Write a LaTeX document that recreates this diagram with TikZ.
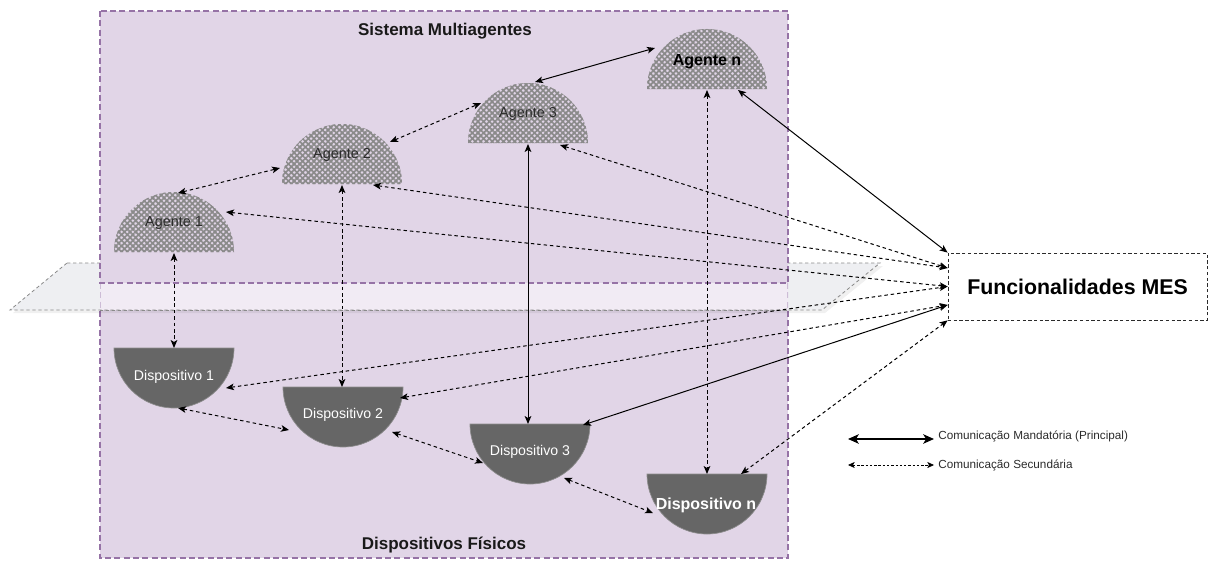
\documentclass[tikz,border=0pt]{standalone}
\usepackage{fontspec}
\setmainfont{Liberation Sans}
\usetikzlibrary{arrows.meta,patterns.meta,calc}

\definecolor{boxfill}{HTML}{E1D5E7}
\definecolor{boxline}{HTML}{9673A6}
\definecolor{boxfaded}{HTML}{CDBCD6}
\definecolor{planefill}{HTML}{EEEFF2}
\definecolor{planeinner}{HTML}{F1EBF4}
\definecolor{planeline}{HTML}{8A8A8A}
\definecolor{hatchgray}{HTML}{8A8A8A}
\definecolor{devfill}{HTML}{666666}
\definecolor{devline}{HTML}{8C8C8C}
\definecolor{txtgray}{HTML}{2B2B2B}

\tikzset{
  >={Stealth[length=6pt,width=5pt,inset=1.5pt]},
  boxborder/.style={draw=boxline, line width=1.3pt, dash pattern=on 4.5pt off 2.5pt},
  planeborder/.style={draw=planeline, line width=0.6pt, dash pattern=on 2.5pt off 2pt},
  mainlink/.style={<->, draw=black, line width=0.75pt},
  seclink/.style={<->, draw=black, line width=0.75pt, dash pattern=on 2.6pt off 2.2pt},
  aglabel/.style={text=txtgray, font=\fontsize{10.8}{13}\selectfont, inner sep=0pt},
  agbold/.style={text=black, font=\fontsize{12}{14}\selectfont\bfseries, inner sep=0pt},
  devlabel/.style={text=white, font=\fontsize{10.6}{13}\selectfont, inner sep=0pt},
  devbold/.style={text=white, font=\fontsize{12}{14}\selectfont\bfseries, inner sep=0pt},
  titletext/.style={text=black!90, font=\fontsize{12.75}{15}\selectfont\bfseries, inner sep=0pt},
  mesbox/.style={draw=txtgray, line width=0.6pt, dash pattern=on 2.5pt off 1.8pt, fill=white,
    minimum width=194.25pt, minimum height=50.25pt, inner sep=0pt,
    font=\fontsize{16}{19}\selectfont\bfseries},
  legtext/.style={text=txtgray, font=\fontsize{8.8}{10}\selectfont, inner sep=0pt, anchor=west},
  legmain/.style={{Stealth[length=8pt,width=7pt,inset=2pt]}-{Stealth[length=8pt,width=7pt,inset=2pt]}, line width=1.5pt},
  legsec/.style={{Stealth[length=5pt,width=4.5pt,inset=1.2pt]}-{Stealth[length=5pt,width=4.5pt,inset=1.2pt]},
    line width=0.5pt, dash pattern=on 1.8pt off 1.4pt},
}

\begin{document}
\begin{tikzpicture}[x=0.75pt,y=0.75pt]
\useasboundingbox (0,0) rectangle (1209,-560);

% lower frame: physical devices
\fill[boxfill] (100,-283) rectangle (788,-558);
\draw[boxborder] (100,-283) rectangle (788,-558);

% separating plane
\fill[black, opacity=0.06] (70,-266) -- (883,-266) -- (825,-313) -- (13,-313) -- cycle;
\path[fill=planefill, planeborder] (67,-263) -- (880,-263) -- (822,-310) -- (10,-310) -- cycle;
\begin{scope}
  \clip (100,-283) rectangle (788,-558);
  \path[fill=planeinner, planeborder] (67,-263) -- (880,-263) -- (822,-310) -- (10,-310) -- cycle;
  \draw[draw=boxfaded, line width=1.3pt, dash pattern=on 4.5pt off 2.5pt] (100,-283) -- (100,-310) (788,-283) -- (788,-310);
  \draw[planeborder] (10,-310) -- (822,-310);
\end{scope}

% upper frame: multi-agent system
\fill[boxfill] (100,-11) rectangle (788,-283);
\draw[boxborder] (100,-11) rectangle (788,-283);

\node[titletext] (tsys) at (445,-31) {Sistema Multiagentes};
\node[titletext] (tdev) at (444,-545) {Dispositivos Físicos};

% agents: cross-hatched domes
\foreach \cx/\cy in {174/252, 342/184, 528/143, 707/89} {
  \path[pattern={Lines[angle=45,distance=3pt,line width=1.3pt]}, pattern color=hatchgray]
    (\cx-60,-\cy) arc[start angle=180,end angle=0,radius=60] -- cycle;
  \path[pattern={Lines[angle=-45,distance=3pt,line width=1.3pt]}, pattern color=hatchgray]
    (\cx-60,-\cy) arc[start angle=180,end angle=0,radius=60] -- cycle;
}

% devices: dark bowls
\foreach \cx/\cy in {174/348, 343/387, 530/424, 707/474} {
  \path[fill=devfill, draw=devline, line width=0.5pt]
    (\cx-60,-\cy) arc[start angle=180,end angle=360,radius=60] -- cycle;
}

\node[aglabel] (ag1) at (174,-223) {Agente 1};
\node[aglabel] (ag2) at (342,-155) {Agente 2};
\node[aglabel] (ag3) at (528,-114) {Agente 3};
\node[agbold]  (agn) at (707,-62)  {Agente n};

\node[devlabel] (dv1) at (174,-377) {Dispositivo 1};
\node[devlabel] (dv2) at (343,-415) {Dispositivo 2};
\node[devlabel] (dv3) at (530,-452) {Dispositivo 3};
\node[devbold]  (dvn) at (706,-505) {Dispositivo n};

\node[mesbox] (mes) at (1077.5,-286.5) {Funcionalidades MES};

% connection points on the agents
\coordinate (ag1-top) at (178,-193);
\coordinate (ag1-ne)  at (226,-212);
\coordinate (ag1-bot) at (174,-253);
\coordinate (ag2-w)   at (280,-168);
\coordinate (ag2-ne)  at (390,-142);
\coordinate (ag2-se)  at (373,-185);
\coordinate (ag2-bot) at (342,-185);
\coordinate (ag3-w)   at (481,-103);
\coordinate (ag3-top) at (535,-82);
\coordinate (ag3-se)  at (560,-145);
\coordinate (ag3-bot) at (528,-144);
\coordinate (agn-w)   at (655,-48);
\coordinate (agn-se)  at (738,-90);
\coordinate (agn-bot) at (707,-90);

% connection points on the devices
\coordinate (dv1-top) at (174,-348);
\coordinate (dv1-e)   at (226,-388);
\coordinate (dv1-bot) at (178,-408);
\coordinate (dv2-top) at (342,-387);
\coordinate (dv2-w)   at (289,-430);
\coordinate (dv2-ne)  at (400,-398);
\coordinate (dv2-e)   at (392,-432);
\coordinate (dv3-top) at (528,-424);
\coordinate (dv3-ne)  at (583,-425);
\coordinate (dv3-w)   at (483,-463);
\coordinate (dv3-se)  at (564,-478);
\coordinate (dvn-top) at (707,-474);
\coordinate (dvn-ne)  at (741,-474);
\coordinate (dvn-w)   at (653,-513);

% connection points on the MES block
\coordinate (mes-p1) at (mes.north west);
\coordinate (mes-p2) at ($(mes.west)+(0,18.5)$);
\coordinate (mes-p3) at (mes.west);
\coordinate (mes-p4) at ($(mes.west)+(0,-18.5)$);
\coordinate (mes-p5) at (mes.south west);

% mandatory links
\draw[mainlink] (ag3-top) -- (agn-w);
\draw[mainlink] (agn-se) -- (mes-p1);
\draw[mainlink] (ag3-bot) -- (dv3-top);
\draw[mainlink] (dv3-ne) -- (mes-p4);

% secondary links
\draw[seclink] (ag1-top) -- (ag2-w);
\draw[seclink] (ag2-ne) -- (ag3-w);
\draw[seclink] (ag1-bot) -- (dv1-top);
\draw[seclink] (ag2-bot) -- (dv2-top);
\draw[seclink] (agn-bot) -- (dvn-top);
\draw[seclink] (dv1-bot) -- (dv2-w);
\draw[seclink] (dv2-e) -- (dv3-w);
\draw[seclink] (dv3-se) -- (dvn-w);
\draw[seclink] (ag1-ne) -- (mes-p3);
\draw[seclink] (ag2-se) -- (mes-p2);
\draw[seclink] (ag3-se) -- (mes-p2);
\draw[seclink] (dv1-e) -- (mes-p3);
\draw[seclink] (dv2-ne) -- (mes-p4);
\draw[seclink] (dvn-ne) -- (mes-p5);

% legend
\coordinate (lg1a) at (848,-439);
\coordinate (lg1b) at (934,-439);
\coordinate (lg2a) at (848,-465);
\coordinate (lg2b) at (934,-465);
\draw[legmain] (lg1a) -- (lg1b);
\draw[legsec] (lg2a) -- (lg2b);
\node[legtext] (lg1t) at (938,-436) {Comunicação Mandatória (Principal)};
\node[legtext] (lg2t) at (938,-465) {Comunicação Secundária};
\end{tikzpicture}
\end{document}
